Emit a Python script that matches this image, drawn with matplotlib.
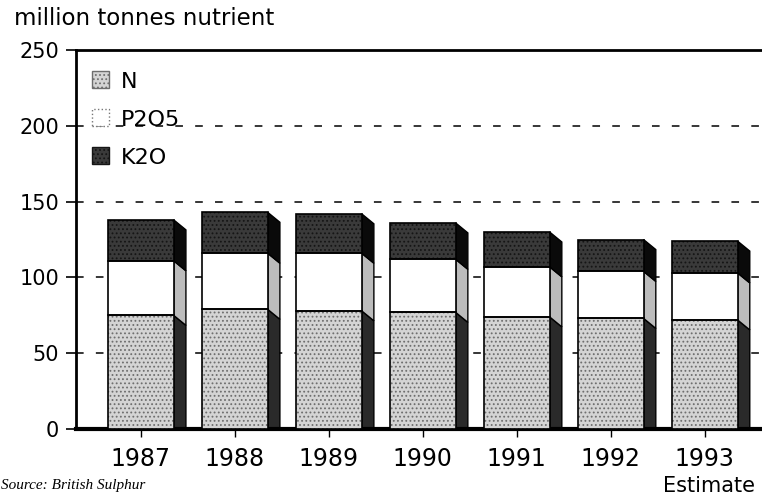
import matplotlib.pyplot as plt
from matplotlib.patches import Patch

plt.rcParams['font.family'] = ['DejaVu Sans']
plt.rcParams['hatch.linewidth'] = 0.8

years = ['1987', '1988', '1989', '1990', '1991', '1992', '1993']
nitrogen = [75, 79, 78, 77, 74, 73, 72]
phosphate = [36, 37, 38, 35, 33, 31, 31]
potash = [27, 27, 26, 24, 23, 21, 21]

# front colour, hatch colour, side colour
styles = {
    'N': ('#d4d4d4', '#6e6e6e', '#2a2a2a'),
    'P2O5': ('#ffffff', '#ffffff', '#bcbcbc'),
    'K2O': ('#3a3a3a', '#151515', '#0a0a0a'),
}

width = 0.7
dx, dy = 0.13, 6.6   # depth of the pseudo-3d side

fig = plt.figure(figsize=(7.62, 4.96), dpi=100)
ax = fig.add_axes([0.0997, 0.135, 0.9003, 0.764])

x = list(range(len(years)))
bottom = [0] * len(years)
for name, vals in [('N', nitrogen), ('P2O5', phosphate), ('K2O', potash)]:
    face, hatch_col, side = styles[name]
    hatch = '....' if name != 'P2O5' else None
    ax.bar(x, vals, width, bottom=bottom, color=face, edgecolor=hatch_col,
           hatch=hatch, linewidth=0, zorder=3)
    ax.bar(x, vals, width, bottom=bottom, fill=False, edgecolor='black',
           linewidth=1.2, zorder=4)
    for i in x:
        b, t = bottom[i], bottom[i] + vals[i]
        x1 = i + width / 2
        ax.fill([x1, x1, x1 + dx, x1 + dx], [b, t, t - dy, b - dy],
                facecolor=side, edgecolor='black', linewidth=1, zorder=2.5)
    bottom = [bottom[i] + vals[i] for i in x]

ax.set_xlim(-0.69, 6.61)
ax.set_ylim(0, 250)
ax.set_yticks([0, 50, 100, 150, 200, 250])
ax.set_xticks(x)
ax.set_xticklabels(years, fontsize=17)
ax.tick_params(axis='y', labelsize=15, length=7, width=1.2, pad=5)
ax.tick_params(axis='x', length=6, width=1, pad=7)

ax.yaxis.grid(True, linestyle=(0, (5, 8)), color='black', linewidth=1.1)
ax.set_axisbelow(True)

for s in ['left', 'top']:
    ax.spines[s].set_linewidth(2)
ax.spines['bottom'].set_linewidth(3)
ax.spines['right'].set_visible(False)

handles = [Patch(facecolor=styles[n][0],
                 edgecolor=styles[n][1] if n != 'P2O5' else '#777777',
                 hatch='....' if n != 'P2O5' else None,
                 linestyle='-' if n != 'P2O5' else ':', label=n)
           for n in ['N', 'P2O5', 'K2O']]
ax.legend(handles=handles, loc='upper left', frameon=False, fontsize=16,
          handlelength=0.8, handleheight=0.8, handletextpad=0.5,
          labelspacing=0.8, borderaxespad=0.3, bbox_to_anchor=(0.0, 0.985))

fig.text(0.018, 0.962, 'million tonnes nutrient', fontsize=16.5, va='center')
fig.text(0.93, 0.021, 'Estimate', fontsize=15, ha='center', va='center')
fig.text(0.001, 0.008, 'Source: British Sulphur', fontsize=11,
         family='Liberation Serif', style='italic', va='bottom')

fig.savefig('out.png', dpi=100)
